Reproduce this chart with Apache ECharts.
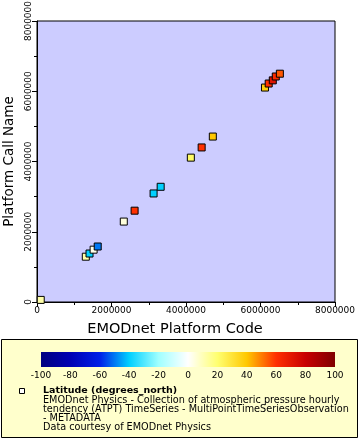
<!DOCTYPE html>
<html><head><meta charset="utf-8">
<script src="https://cdn.jsdelivr.net/npm/echarts@6/dist/echarts.min.js"></script>
<style>html,body{margin:0;padding:0;background:#fff}#c{width:360px;height:440px}</style>
</head><body><div id="c"></div>
<script>
const platformCode = [100000, 1310000, 1410000, 1520000, 1630000, 2330000, 2620000, 3130000, 3320000, 4130000, 4420000, 4720000, 6120000, 6220000, 6330000, 6410000, 6520000];
const callName     = [60000, 1290000, 1380000, 1490000, 1580000, 2290000, 2600000, 3090000, 3280000, 4110000, 4400000, 4710000, 6105000, 6220000, 6310000, 6420000, 6500000];
const latitude     = [12, 12, -40, 3, -50, 5, 60, -40, -40, 22, 60, 40, 38, 60, 72, 62, 55];
const colorTicks = [-100, -80, -60, -40, -20, 0, 20, 40, 60, 80, 100];
const paletteColors = ['#000080', '#0000b4', '#0020e8', '#00d0ff', '#a0ffff', '#ffffff', '#ffff70', '#ffc800', '#ff3000', '#c80000', '#800000'];
const legendTitle = 'Latitude (degrees_north)';
const legendLines = [
  'EMODnet Physics - Collection of atmospheric pressure hourly',
  'tendency (ATPT) TimeSeries - MultiPointTimeSeriesObservation',
  '- METADATA',
  'Data courtesy of EMODnet Physics'
];
const xName = 'EMODnet Platform Code';
const yName = 'Platform Call Name';

const FONT = 'DejaVu Sans';
const chart = echarts.init(document.getElementById('c'), null, {renderer: 'canvas'});
const data = platformCode.map((x, i) => [x, callName[i], latitude[i]]);
const gradient = {
  type: 'linear', x: 0, y: 0, x2: 1, y2: 0,
  colorStops: paletteColors.map((c, i) => ({offset: i / (paletteColors.length - 1), color: c}))
};
const plain = v => String(v);
const axisCommon = {
  type: 'value', min: 0, max: 8000000, interval: 2000000,
  axisLine: {show: true, lineStyle: {color: '#000', width: 1}},
  axisTick: {show: true, length: 5, lineStyle: {color: '#000'}},
  minorTick: {show: true, splitNumber: 2, length: 3, lineStyle: {color: '#000'}},
  splitLine: {show: false},
  nameLocation: 'middle'
};
const lineH = 9;
const legendText = [
  {type: 'text', left: 43, top: 386, style: {text: legendTitle, font: 'bold 9.5px "DejaVu Sans"', fill: '#000'}},
  ...legendLines.map((t, i) => ({type: 'text', left: 43, top: 395 + i * lineH, style: {text: t, font: '9.7px "DejaVu Sans"', fill: '#000'}}))
];
chart.setOption({
  animation: false,
  backgroundColor: '#fff',
  textStyle: {fontFamily: FONT},
  graphic: [
    {type: 'rect', z: -1, shape: {x: 1.5, y: 339.5, width: 356, height: 98}, style: {fill: '#ffffcc', stroke: '#000', lineWidth: 1}},
    {type: 'rect', shape: {x: 19.5, y: 388.5, width: 5, height: 5}, style: {fill: '#fff', stroke: '#000', lineWidth: 1}},
    ...legendText
  ],
  grid: [
    {left: 37, top: 21, width: 298, height: 281, show: true, backgroundColor: '#ccccff', borderColor: '#000', borderWidth: 1, outerBoundsMode: 'none', containLabel: false},
    {left: 41, top: 352, width: 294, height: 15, show: true, backgroundColor: gradient, borderWidth: 0, outerBoundsMode: 'none', containLabel: false}
  ],
  xAxis: [
    Object.assign({}, axisCommon, {gridIndex: 0, name: xName, nameGap: 20,
      nameTextStyle: {fontFamily: FONT, fontSize: 14.5, color: '#000', padding: [0, 22, 0, 0]},
      axisLabel: {fontFamily: FONT, fontSize: 9, color: '#000', margin: 4, formatter: plain, showMaxLabel: true, showMinLabel: true}}),
    {type: 'value', gridIndex: 1, min: -100, max: 100, interval: 20,
      axisLine: {show: false}, axisTick: {show: false}, splitLine: {show: false},
      axisLabel: {fontFamily: FONT, fontSize: 9, color: '#000', margin: 4, formatter: plain, showMaxLabel: true, showMinLabel: true}}
  ],
  yAxis: [
    Object.assign({}, axisCommon, {gridIndex: 0, name: yName, nameGap: 15,
      nameTextStyle: {fontFamily: FONT, fontSize: 13.5, color: '#000'},
      axisLabel: {fontFamily: FONT, fontSize: 9, color: '#000', margin: 4, rotate: 90, formatter: plain, showMaxLabel: true, showMinLabel: true}}),
    {type: 'value', gridIndex: 1, show: false, min: 0, max: 1}
  ],
  visualMap: {
    show: false, type: 'continuous', dimension: 2, min: -100, max: 100, seriesIndex: 0,
    inRange: {color: paletteColors}
  },
  series: [{
    type: 'scatter', xAxisIndex: 0, yAxisIndex: 0, symbol: 'rect', symbolSize: 7,
    itemStyle: {borderColor: '#000', borderWidth: 1, opacity: 1},
    data: data
  }]
});
</script></body></html>
